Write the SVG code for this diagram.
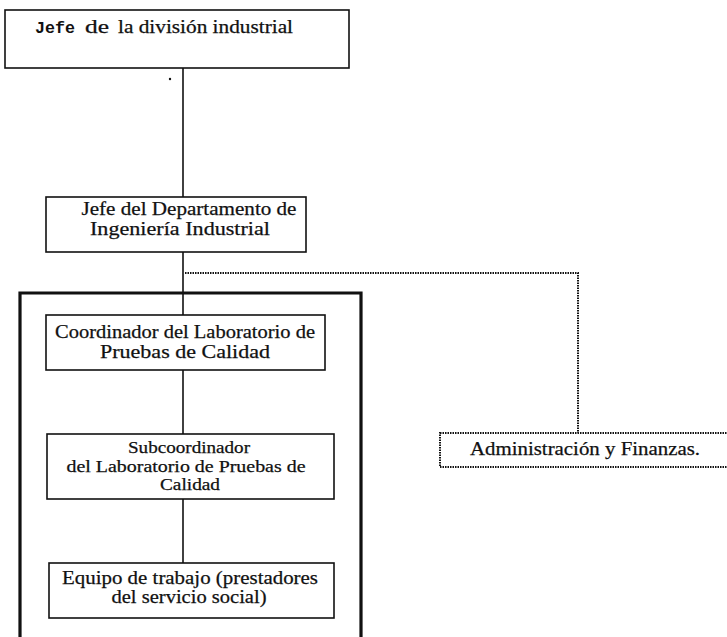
<svg xmlns="http://www.w3.org/2000/svg" width="727" height="637" viewBox="0 0 727 637">
<style>
.box{fill:#fff;stroke:#111;stroke-width:1.6}
.thick{fill:none;stroke:#111;stroke-width:3.2}
.ln{stroke:#111;stroke-width:1.6;fill:none}
.dot{stroke:#111;stroke-width:2;fill:none;stroke-dasharray:1.5 1}
.dbox{fill:#fff;stroke:#111;stroke-width:2;stroke-dasharray:1.5 1}
text{font-family:"Liberation Serif","DejaVu Serif",serif;font-size:19px;fill:#111;stroke:#111;stroke-width:0.25;text-anchor:middle}
.st{text-anchor:start}
.mono{font-family:"Liberation Mono","DejaVu Sans Mono",monospace;font-size:17px;font-weight:bold;stroke-width:0}
.sm{font-size:17px}
</style>
<rect width="727" height="637" fill="#fff"/>
<g id="connectors">
<line class="ln" x1="183" y1="68" x2="183" y2="197"/>
<line class="ln" x1="183" y1="252" x2="183" y2="315"/>
<line class="ln" x1="183" y1="370" x2="183" y2="434"/>
<line class="ln" x1="183" y1="499" x2="183" y2="563"/>
<path class="dot" d="M185 273 H578 V433"/>
<circle cx="170" cy="79" r="1.2" fill="#111"/>
</g>
<g id="group-lab">
<path class="thick" d="M20 640 V293 H361 V640"/>
</g>
<g id="jefe-division">
<rect class="box" x="5" y="10" width="344" height="58"/>
<text class="mono st" x="35" y="33" textLength="40" lengthAdjust="spacingAndGlyphs">Jefe</text>
<text class="st" x="85" y="33" textLength="24" lengthAdjust="spacingAndGlyphs">de</text>
<text class="st" x="118" y="33" textLength="175" lengthAdjust="spacingAndGlyphs">la división industrial</text>
</g>
<g id="jefe-departamento">
<rect class="box" x="46" y="197" width="260" height="55"/>
<text x="189" y="215" textLength="215" lengthAdjust="spacingAndGlyphs">Jefe del Departamento de</text>
<text x="180" y="235" textLength="180" lengthAdjust="spacingAndGlyphs">Ingeniería Industrial</text>
</g>
<g id="coordinador">
<rect class="box" x="46" y="315" width="279" height="55"/>
<text x="185" y="338" textLength="260" lengthAdjust="spacingAndGlyphs">Coordinador del Laboratorio de</text>
<text x="185" y="358" textLength="170" lengthAdjust="spacingAndGlyphs">Pruebas de Calidad</text>
</g>
<g id="subcoordinador">
<rect class="box" x="47" y="434" width="287" height="65"/>
<text class="sm" x="189" y="453" textLength="122" lengthAdjust="spacingAndGlyphs">Subcoordinador</text>
<text class="sm" x="186" y="472" textLength="239" lengthAdjust="spacingAndGlyphs">del Laboratorio de Pruebas de</text>
<text class="sm" x="190" y="490" textLength="60" lengthAdjust="spacingAndGlyphs">Calidad</text>
</g>
<g id="equipo">
<rect class="box" x="49" y="563" width="285" height="55"/>
<text x="190" y="584" textLength="256" lengthAdjust="spacingAndGlyphs">Equipo de trabajo (prestadores</text>
<text x="189" y="603" textLength="155" lengthAdjust="spacingAndGlyphs">del servicio social)</text>
</g>
<g id="administracion">
<rect class="dbox" x="440" y="433" width="290" height="34"/>
<text x="585" y="455" textLength="230" lengthAdjust="spacingAndGlyphs">Administración y Finanzas.</text>
</g>
</svg>
